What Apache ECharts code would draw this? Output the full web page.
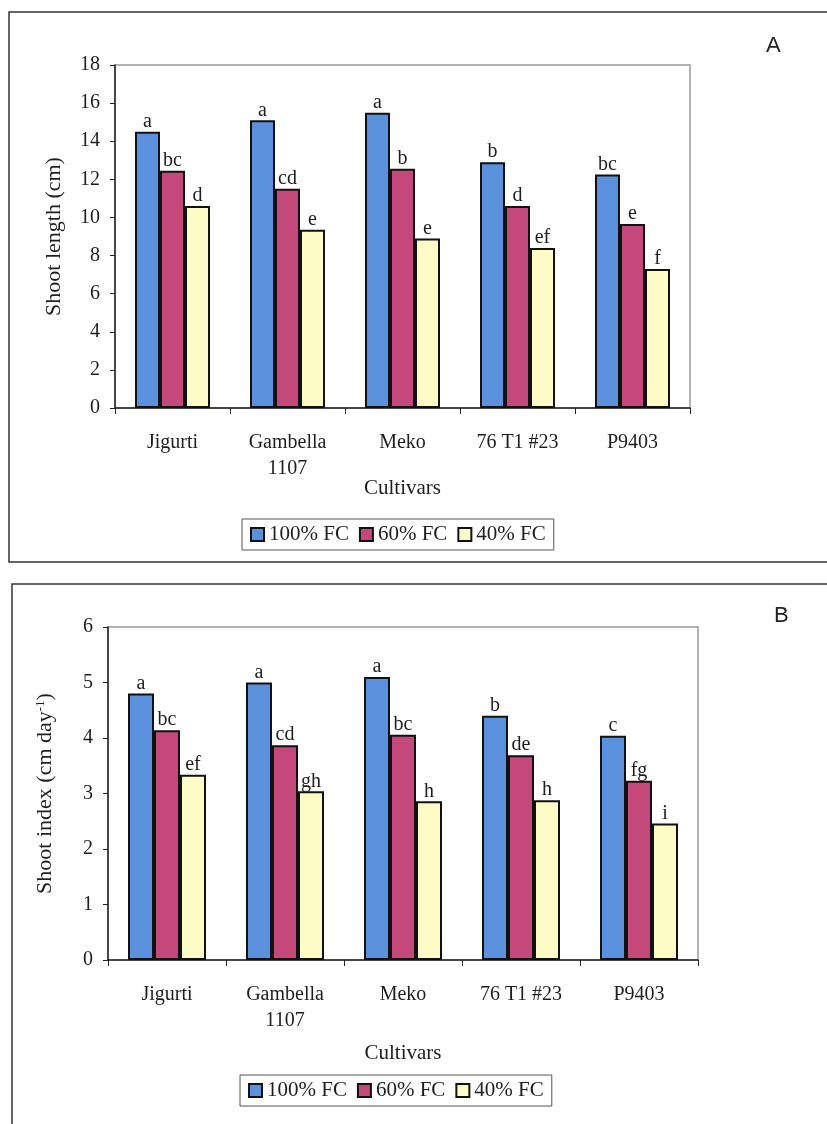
<!DOCTYPE html>
<html>
<head>
<meta charset="utf-8">
<script src="https://cdn.jsdelivr.net/npm/echarts@6/dist/echarts.min.js"></script>
<style>
  html, body { margin: 0; padding: 0; background: #ffffff; }
  #chart { width: 827px; height: 1124px; }
</style>
</head>
<body>
<div id="chart"></div>
<script>
// Cultivars and water-regime treatments
const cultivars = ['Jigurti', 'Gambella\n1107', 'Meko', '76 T1 #23', 'P9403'];
const treatments = ['100% FC', '60% FC', '40% FC'];

// Panel A: shoot length (cm)
const lengthFC100 = [14.5, 15.1, 15.5, 12.9, 12.25];
const lengthFC60  = [12.45, 11.5, 12.55, 10.6, 9.65];
const lengthFC40  = [10.6, 9.35, 8.9, 8.4, 7.3];
const lengthLetters100 = ['a', 'a', 'a', 'b', 'bc'];
const lengthLetters60  = ['bc', 'cd', 'b', 'd', 'e'];
const lengthLetters40  = ['d', 'e', 'e', 'ef', 'f'];
const lengthTicks = { min: 0, max: 18, interval: 2 };

// Panel B: shoot index (cm day-1)
const indexFC100 = [4.8, 5.0, 5.1, 4.4, 4.04];
const indexFC60  = [4.14, 3.87, 4.06, 3.69, 3.23];
const indexFC40  = [3.34, 3.04, 2.86, 2.88, 2.46];
const indexLetters100 = ['a', 'a', 'a', 'b', 'c'];
const indexLetters60  = ['bc', 'cd', 'bc', 'de', 'fg'];
const indexLetters40  = ['ef', 'gh', 'h', 'h', 'i'];
const indexTicks = { min: 0, max: 6, interval: 1 };

const colors = ['#5b90dd', '#c4497a', '#fdfbc6'];
const serif = '"Liberation Serif", "DejaVu Serif", serif';
const sans = '"Liberation Sans", Arial, sans-serif';
const ink = '#1e1e1e';

function barSeries(name, values, letters, colorIdx, axisIdx, width) {
  return {
    type: 'bar',
    name: name,
    xAxisIndex: axisIdx,
    yAxisIndex: axisIdx,
    data: values,
    barWidth: width,
    barGap: '0%',
    itemStyle: { color: colors[colorIdx], borderColor: '#111', borderWidth: 2 },
    label: {
      show: true,
      position: 'top',
      distance: 0,
      fontFamily: serif,
      fontSize: 20,
      color: ink,
      formatter: p => letters[p.dataIndex]
    },
    emphasis: { disabled: true },
    animation: false
  };
}

function xAxisFor(gridIndex, nameGap) {
  return {
    type: 'category',
    gridIndex: gridIndex,
    data: cultivars,
    name: 'Cultivars',
    nameLocation: 'middle',
    nameGap: nameGap,
    nameMoveOverlap: false,
    nameTextStyle: { fontFamily: serif, fontSize: 21, color: ink },
    axisLine: { lineStyle: { color: '#222', width: 1.5 } },
    axisTick: { show: true, length: 6, lineStyle: { color: '#222' } },
    axisLabel: { fontFamily: serif, fontSize: 20, color: ink, margin: 22, lineHeight: 26, interval: 0 }
  };
}

function yAxisFor(gridIndex, ticks, name, nameGap, rich) {
  return {
    type: 'value',
    gridIndex: gridIndex,
    min: ticks.min,
    max: ticks.max,
    interval: ticks.interval,
    name: name,
    nameLocation: 'middle',
    nameGap: nameGap,
    nameRotate: 90,
    nameTextStyle: { fontFamily: serif, fontSize: 22, color: ink, rich: rich || {} },
    axisLine: { show: true, lineStyle: { color: '#222', width: 1.5 } },
    axisTick: { show: true, inside: false, length: 5, lineStyle: { color: '#222' } },
    splitLine: { show: false },
    axisLabel: { fontFamily: serif, fontSize: 20, color: ink, margin: 15 }
  };
}

function legendFor(left, top) {
  return {
    data: treatments.map(t => ({ name: t })),
    left: left,
    top: top,
    orient: 'horizontal',
    icon: 'rect',
    itemWidth: 13,
    itemHeight: 13,
    itemGap: 10,
    itemStyle: { borderColor: '#111', borderWidth: 2 },
    textStyle: { fontFamily: serif, fontSize: 21, color: ink },
    borderColor: '#555',
    borderWidth: 1,
    padding: [5, 8, 5, 8],
    selectedMode: false
  };
}

const chart = echarts.init(document.getElementById('chart'), null, { renderer: 'canvas' });

chart.setOption({
  backgroundColor: '#ffffff',
  animation: false,
  color: colors,
  grid: [
    { left: 115, top: 65, width: 575, height: 343, show: true, borderColor: '#999', borderWidth: 1.5, backgroundColor: 'transparent' },
    { left: 108, top: 627, width: 590, height: 333, show: true, borderColor: '#999', borderWidth: 1.5, backgroundColor: 'transparent' }
  ],
  xAxis: [xAxisFor(0, 70), xAxisFor(1, 83)],
  yAxis: [
    yAxisFor(0, lengthTicks, 'Shoot length (cm)', 50),
    yAxisFor(1, indexTicks, 'Shoot index (cm day{sup|-1})', 52, {
      sup: { fontFamily: serif, fontSize: 13, verticalAlign: 'top', lineHeight: 16, color: ink }
    })
  ],
  legend: [legendFor(242, 519), legendFor(240, 1075)],
  series: [
    barSeries(treatments[0], lengthFC100, lengthLetters100, 0, 0, 25),
    barSeries(treatments[1], lengthFC60, lengthLetters60, 1, 0, 25),
    barSeries(treatments[2], lengthFC40, lengthLetters40, 2, 0, 25),
    barSeries(treatments[0], indexFC100, indexLetters100, 0, 1, 26),
    barSeries(treatments[1], indexFC60, indexLetters60, 1, 1, 26),
    barSeries(treatments[2], indexFC40, indexLetters40, 2, 1, 26)
  ],
  graphic: [
    // Panel frames
    { type: 'rect', shape: { x: 9, y: 12, width: 830, height: 550 }, style: { fill: 'none', stroke: '#333', lineWidth: 1.5 }, silent: true },
    { type: 'rect', shape: { x: 12, y: 584, width: 830, height: 560 }, style: { fill: 'none', stroke: '#333', lineWidth: 1.5 }, silent: true },
    // Panel letters
    { type: 'text', left: 766, top: 35, style: { text: 'A', fontFamily: sans, fontSize: 22, fill: '#222' }, silent: true },
    { type: 'text', left: 774, top: 605, style: { text: 'B', fontFamily: sans, fontSize: 22, fill: '#222' }, silent: true }
  ]
});
</script>
</body>
</html>
